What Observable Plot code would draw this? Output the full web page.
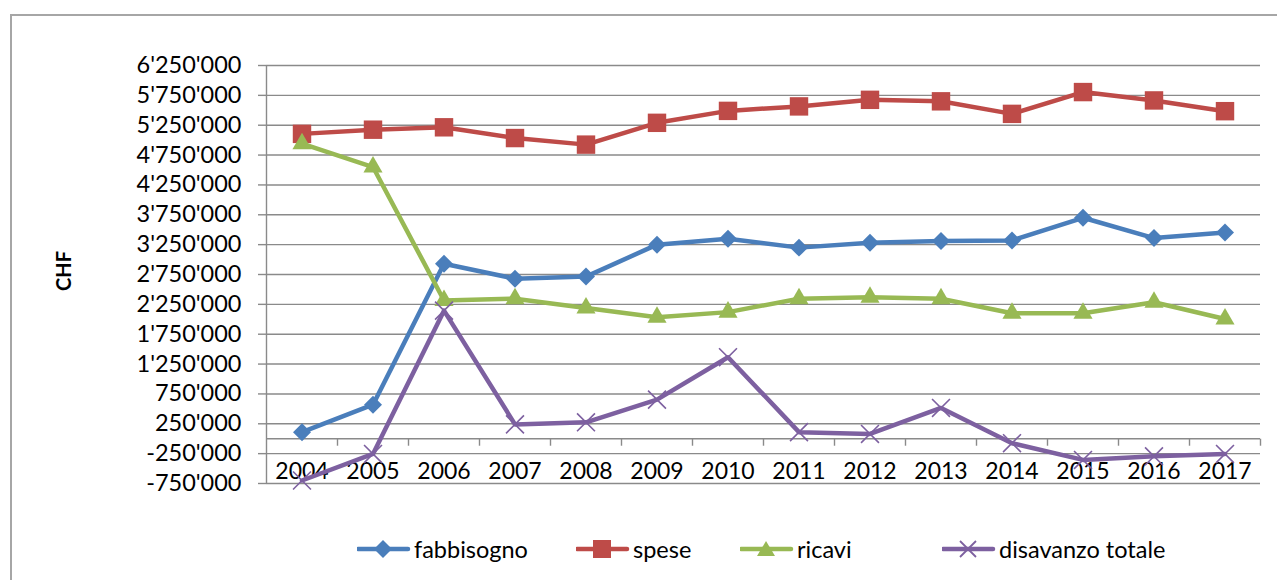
<!DOCTYPE html>
<html>
<head>
<meta charset="utf-8">
<script src="https://cdn.jsdelivr.net/npm/d3@7"></script>
<script src="https://cdn.jsdelivr.net/npm/@observablehq/plot@0.6"></script>
<style>
  html, body { margin: 0; padding: 0; background: #fff; }
  #wrap { position: relative; width: 1277px; height: 580px; overflow: hidden; font-family: Lato, "Open Sans", sans-serif; }
  #frame { position: absolute; left: 10px; top: 14px; width: 1300px; height: 620px; border: 2px solid #a6a6a6; box-sizing: border-box; }
  #chart { position: absolute; left: 0; top: 0; }
  #ylabel { position: absolute; left: 63px; top: 271px; transform: translate(-50%, -50%) rotate(-90deg); font-weight: bold; font-size: 20px; color: #000; white-space: nowrap; }
  .leg { position: absolute; top: 535px; height: 28px; display: flex; align-items: center; font-size: 23.5px; color: #000; white-space: nowrap; }
  .leg svg { margin-right: 3px; }
</style>
</head>
<body>
<div id="wrap">
  <div id="frame"></div>
  <div id="chart"></div>
  <div id="ylabel">CHF</div>
</div>
<script>
// ---- data ----
const years = [2004, 2005, 2006, 2007, 2008, 2009, 2010, 2011, 2012, 2013, 2014, 2015, 2016, 2017];
const fabbisogno = [110000, 570000, 2930000, 2680000, 2715000, 3250000, 3350000, 3200000, 3280000, 3310000, 3320000, 3700000, 3360000, 3455000];
const spese = [5105000, 5175000, 5215000, 5035000, 4925000, 5290000, 5490000, 5565000, 5675000, 5650000, 5440000, 5805000, 5665000, 5485000];
const ricavi = [4940000, 4550000, 2315000, 2345000, 2190000, 2035000, 2120000, 2345000, 2370000, 2345000, 2100000, 2100000, 2285000, 2005000];
const disavanzo = [-700000, -255000, 2145000, 240000, 275000, 655000, 1365000, 110000, 80000, 515000, -75000, -355000, -295000, -255000];
const seriesNames = ["fabbisogno", "spese", "ricavi", "disavanzo totale"];
const seriesColors = ["#4A7EBB", "#BE4B48", "#98B954", "#7D60A0"];
const yTicks = [-750000, -250000, 250000, 750000, 1250000, 1750000, 2250000, 2750000, 3250000, 3750000, 4250000, 4750000, 5250000, 5750000, 6250000];

// ---- build table ----
const seriesValues = [fabbisogno, spese, ricavi, disavanzo];
const rows = [];
seriesNames.forEach((name, s) => {
  years.forEach((yr, i) => rows.push({name, year: yr, value: seriesValues[s][i]}));
});
const boundaries = years.map(y => y - 0.5).concat([years[years.length - 1] + 0.5]);
const fmt = d3.formatLocale({decimal: ".", thousands: "'", grouping: [3], currency: ["", ""], minus: "-"}).format(",d");

const grid = "#8a8a8a";
const tickSymbol = { draw(ctx) { ctx.moveTo(0, 0); ctx.lineTo(0, 7); } };

const symbols = {
  "fabbisogno": {symbol: "diamond2", r: 8.1},
  "spese": {symbol: "square", r: 10.4},
  "ricavi": {symbol: "triangle", r: 7.1},
  "disavanzo totale": {symbol: "times", r: 8.2}
};

const marks = [
  Plot.gridY(yTicks, {stroke: grid, strokeOpacity: 1, strokeWidth: 1.4}),
  Plot.axisY(yTicks, {tickSize: 8, tickPadding: 17, tickFormat: fmt, fontSize: 23.5, stroke: grid, strokeWidth: 1.4, label: null}),
  Plot.ruleX(boundaries.slice(0, 1), {stroke: grid, strokeWidth: 1.4}),
  Plot.ruleY([0], {stroke: grid, strokeWidth: 1.4}),
  Plot.dot(boundaries.slice(1), {x: d => d, y: () => 0, symbol: tickSymbol, stroke: grid, strokeWidth: 1.4, fill: "none"}),
  Plot.text(years, {x: d => d, y: () => 0, dy: 33, text: d => String(d), fontSize: 23, fill: "#000"}),
  Plot.line(rows, {x: "year", y: "value", z: "name", stroke: "name", strokeWidth: 4.5, strokeLinejoin: "round"})
];
seriesNames.forEach(name => {
  const s = symbols[name];
  const sub = rows.filter(d => d.name === name);
  if (name === "disavanzo totale") {
    marks.push(Plot.dot(sub, {x: "year", y: "value", symbol: s.symbol, r: s.r, stroke: "name", strokeWidth: 1.6}));
  } else {
    marks.push(Plot.dot(sub, {x: "year", y: "value", symbol: s.symbol, r: s.r, fill: "name", stroke: null}));
  }
});

const chart = Plot.plot({
  width: 1277,
  height: 580,
  marginLeft: 266,
  marginRight: 17,
  marginTop: 65,
  marginBottom: 97,
  style: {fontFamily: 'Lato, "Open Sans", sans-serif', color: "#000", background: "transparent"},
  x: {type: "linear", domain: [boundaries[0], boundaries[boundaries.length - 1]], axis: null},
  y: {domain: [yTicks[0], yTicks[yTicks.length - 1]], axis: null},
  color: {domain: seriesNames, range: seriesColors},
  marks
});
document.getElementById("chart").appendChild(chart);

// ---- legend ----
const legendLeft = [357, 576, 740, 942];
const wrap = document.getElementById("wrap");
seriesNames.forEach((name, i) => {
  const div = document.createElement("div");
  div.className = "leg";
  div.style.left = legendLeft[i] + "px";
  const c = seriesColors[i];
  let marker = "";
  if (i === 0) marker = `<path d="M26,1 L35,10 L26,19 L17,10 Z" fill="${c}"/>`;
  if (i === 1) marker = `<rect x="17" y="1" width="18" height="18" fill="${c}"/>`;
  if (i === 2) marker = `<path d="M26,2 L35,17 L17,17 Z" fill="${c}"/>`;
  if (i === 3) marker = `<path d="M18,2 L34,18 M34,2 L18,18" stroke="${c}" stroke-width="1.8"/>`;
  div.innerHTML = `<svg width="54" height="20"><line x1="1" y1="10" x2="51" y2="10" stroke="${c}" stroke-width="4.5" stroke-linecap="round"/>${marker}</svg><span>${name}</span>`;
  wrap.appendChild(div);
});
</script>
</body>
</html>
